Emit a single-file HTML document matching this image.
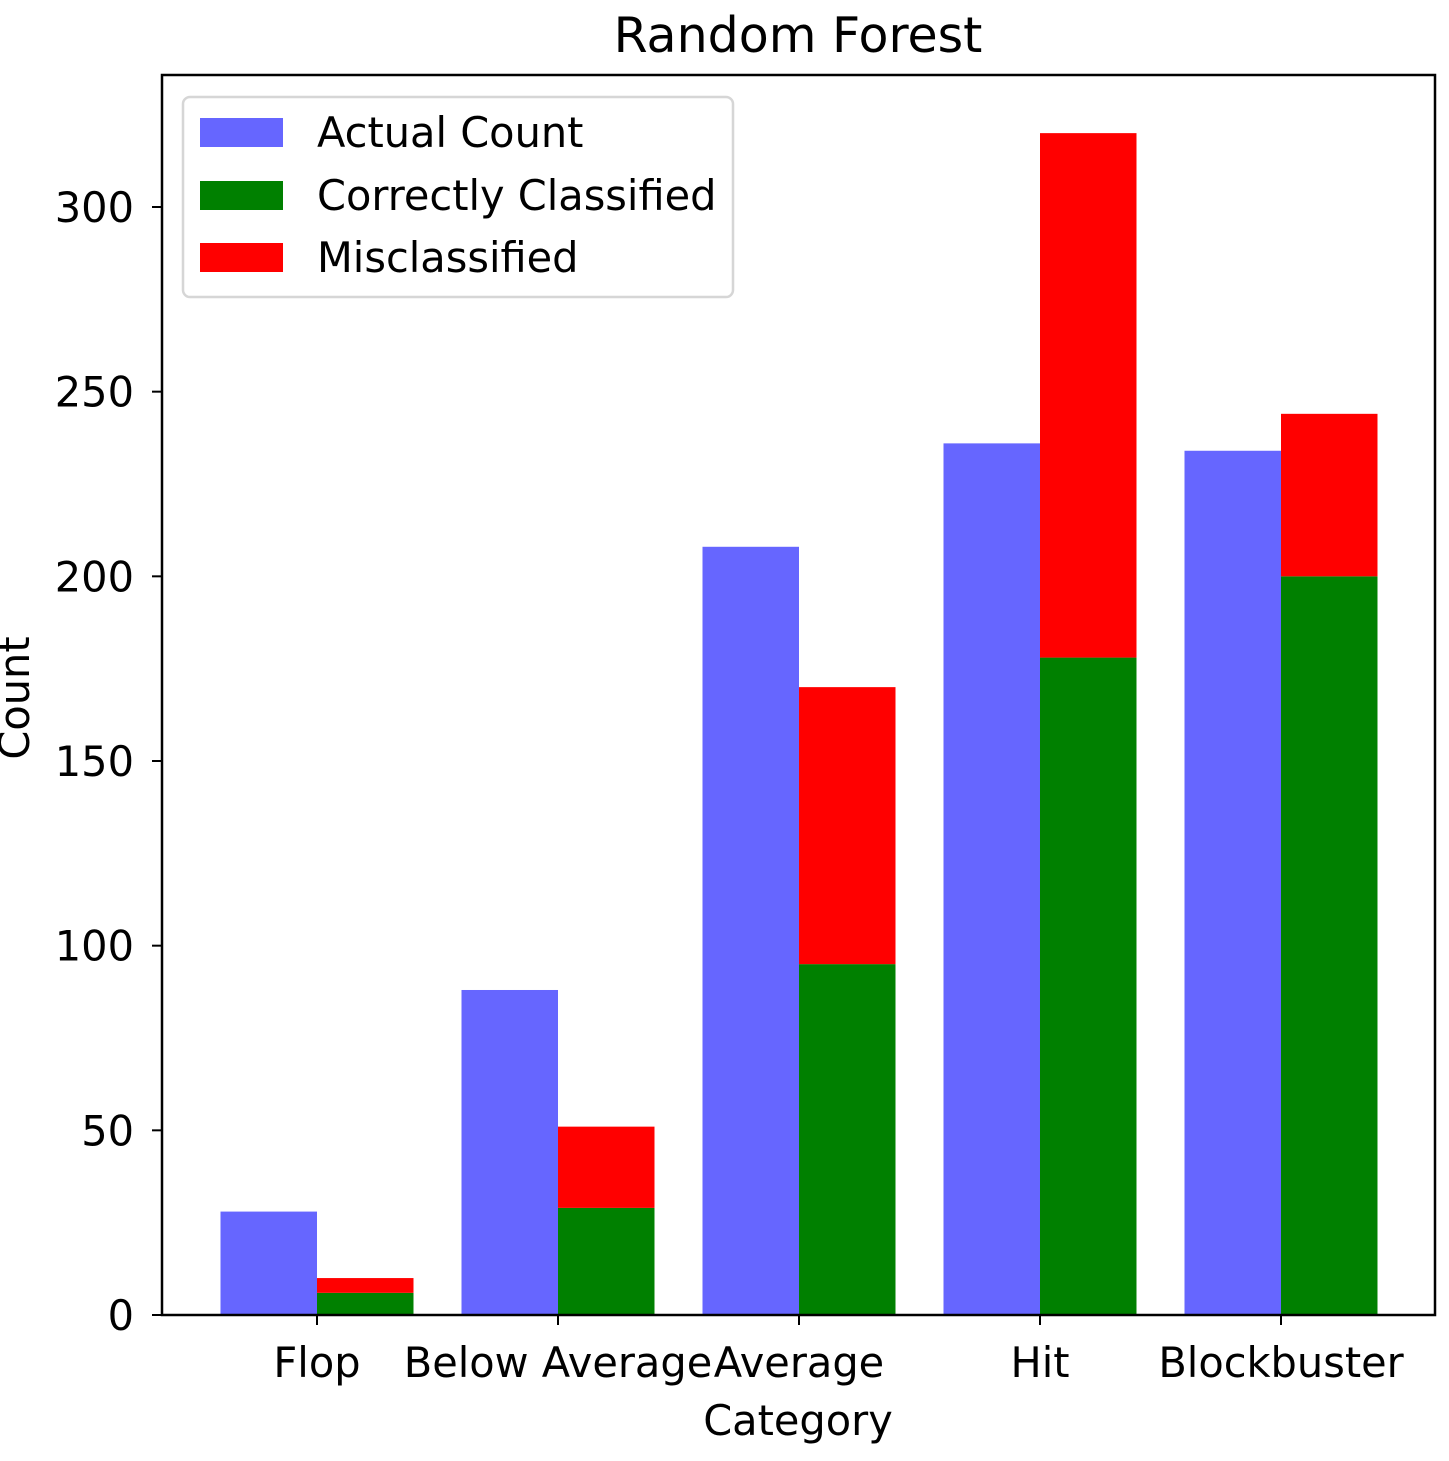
<!DOCTYPE html>
<html><head><meta charset="utf-8"><style>
html,body{margin:0;padding:0;background:#fff;}
svg text{font-family:"DejaVu Sans","Liberation Sans",sans-serif;fill:#000;}
</style></head><body>
<svg id="chart" width="1449" height="1456" viewBox="0 0 1449 1456">
<text x="798" y="52" font-size="49" text-anchor="middle">Random Forest</text>
<g id="bars"></g>
<g id="axes"></g>
<rect x="162" y="75" width="1273" height="1240" fill="none" stroke="#000" stroke-width="2.5"/>
<text x="798" y="1435" font-size="41.5" text-anchor="middle">Category</text>
<text transform="translate(29,698) rotate(-90)" font-size="41.5" text-anchor="middle">Count</text>
<g>
<rect x="183" y="97" width="550" height="200" rx="7" fill="#fff" fill-opacity="0.8" stroke="#d6d6d6" stroke-width="2.5"/>
<rect x="200" y="118" width="83" height="29" fill="#6666ff"/>
<text x="317" y="147" font-size="41.5">Actual Count</text>
<rect x="200" y="181" width="83" height="29" fill="#008000"/>
<text x="317" y="210" font-size="41.5">Correctly Classified</text>
<rect x="200" y="243" width="83" height="29" fill="#ff0000"/>
<text x="317" y="272" font-size="41.5">Misclassified</text>
</g>
</svg>
<script>
const categories = ["Flop","Below Average","Average","Hit","Blockbuster"];
const actualCounts = [28, 88, 208, 236, 234];
const correctCounts = [6, 29, 95, 178, 200];
const misclassifiedCounts = [4, 22, 75, 142, 44];
const yTicks = [0, 50, 100, 150, 200, 250, 300];

const NS = "http://www.w3.org/2000/svg";
const x0 = 317, step = 241, barW = 96.5;
const yBase = 1315, pxPerUnit = (1315 - 207) / 300;
function xPos(i){ return x0 + i * step; }
function yPos(v){ return yBase - v * pxPerUnit; }
function mk(tag, attrs, parent){
  const e = document.createElementNS(NS, tag);
  for (const k in attrs) e.setAttribute(k, attrs[k]);
  parent.appendChild(e);
  return e;
}
const bars = document.getElementById("bars");
const axes = document.getElementById("axes");
categories.forEach((c, i) => {
  const cx = xPos(i);
  let r = mk("rect", {x: cx - barW, y: yPos(actualCounts[i]), width: barW, height: yBase - yPos(actualCounts[i]), fill: "#6666ff"}, bars);
  
  
  r = mk("rect", {x: cx, y: yPos(correctCounts[i]), width: barW, height: yBase - yPos(correctCounts[i]), fill: "#008000"}, bars);
  
  
  const top = correctCounts[i] + misclassifiedCounts[i];
  r = mk("rect", {x: cx, y: yPos(top), width: barW, height: yPos(correctCounts[i]) - yPos(top), fill: "#ff0000"}, bars);
  
  
  const t = mk("line", {x1: cx, x2: cx, y1: yBase, y2: yBase + 10, stroke: "#000", "stroke-width": 2}, axes);
  
  
  const l = mk("text", {x: cx, y: 1377, "font-size": 41.5, "text-anchor": "middle"}, axes);
  l.textContent = c;
  
  
});
yTicks.forEach((v, i) => {
  const y = yPos(v);
  const t = mk("line", {x1: 152, x2: 162, y1: y, y2: y, stroke: "#000", "stroke-width": 2}, axes);
  
  
  const l = mk("text", {x: 134, y: y + 15, "font-size": 41.5, "text-anchor": "end"}, axes);
  l.textContent = v;
  
  
});
</script>
</body></html>
